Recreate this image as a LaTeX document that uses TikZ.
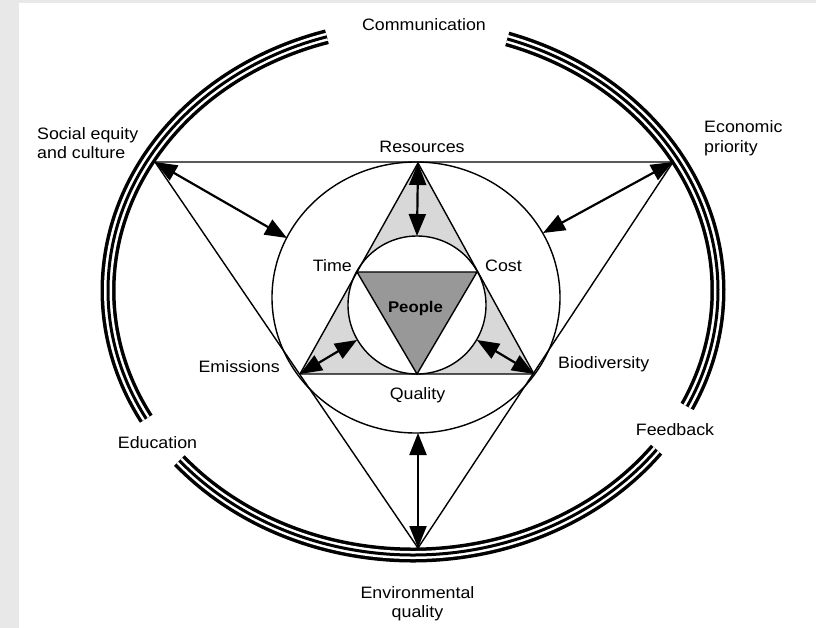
\documentclass[tikz,border=0pt]{standalone}
\usepackage{fontspec}
\setmainfont{Liberation Sans}[FakeStretch=1.08]
\usetikzlibrary{arrows.meta}

\definecolor{scanedge}{RGB}{232,232,232}
\definecolor{lightfill}{RGB}{216,216,216}
\definecolor{peoplefill}{RGB}{152,152,152}

\begin{document}
\begin{tikzpicture}[x=1pt, y=-1pt,
  headtip/.tip={Triangle[length=22pt,width=17pt]},
  lbl/.style={font=\fontsize{16.5}{19.5}\selectfont, inner sep=0pt},
  rim/.style={line width=1.4pt},
  link/.style={headtip-headtip, line width=2.2pt},
  band/.style={line width=3pt,
    preaction={draw, line width=3.5pt, double=white, double distance=8pt}}]
  \useasboundingbox (0,0) rectangle (816,628);
  \fill[white] (0,0) rectangle (816,628);
  \fill[scanedge] (0,0) rectangle (19,628);
  \fill[scanedge] (0,0) rectangle (816,3);

  % centres
  \coordinate (O) at (413,290.5);
  \coordinate (M) at (416,297.5);
  \coordinate (I) at (417,305);
  % outer triangle
  \coordinate (se) at (155,162);
  \coordinate (ep) at (673,162);
  \coordinate (eq) at (418,548);
  % inner triangle
  \coordinate (res) at (418,163);
  \coordinate (emi) at (300,374);
  \coordinate (bio) at (534,374);
  % people triangle
  \coordinate (tim) at (357,272);
  \coordinate (cst) at (477,272);
  \coordinate (qua) at (417,374);
  % arrow ends on the circles
  \coordinate (sea) at (287,238);
  \coordinate (epa) at (543,233);
  \coordinate (eqa) at (418,433);
  \coordinate (resa) at (417,236);
  \coordinate (emia) at (357,340);
  \coordinate (bioa) at (477,340);

  \fill[lightfill] (res) -- (emi) -- (bio) -- cycle;
  \fill[white] (I) circle (69pt);
  \fill[peoplefill] (tim) -- (cst) -- (qua) -- cycle;

  \draw[rim] (res) -- (emi) -- (bio) -- cycle;
  \draw[rim] (tim) -- (cst) -- (qua) -- cycle;
  \draw[rim] (I) circle (69pt);
  \draw[rim] (M) ellipse[x radius=144pt, y radius=135.5pt];
  \draw[rim] (se) -- (ep) -- (eq) -- cycle;

  \foreach \s/\e in {106.4/209, 220/323, 334/432}
    \draw[band] ([shift={(\s:305pt and 264.5pt)}]O)
      arc[start angle=\s, end angle=\e, x radius=305pt, y radius=264.5pt];

  \draw[link] (sea) -- (se);
  \draw[link] (epa) -- (ep);
  \draw[link] (eqa) -- (eq);
  \draw[link] (resa) -- (res);
  \draw[link] (emia) -- (emi);
  \draw[link] (bioa) -- (bio);

  \node[lbl, anchor=base] (comm) at (424,31) {Communication};
  \node[lbl, anchor=north west, align=left] (soc) at (37,127) {Social equity\\and culture};
  \node[lbl, anchor=north west, align=left] (eco) at (704,120.5) {Economic\\priority};
  \node[lbl, anchor=base] (resl) at (422,153) {Resources};
  \node[lbl, anchor=base east] (timl) at (352,271.5) {Time};
  \node[lbl, anchor=base west] (cstl) at (485,271.5) {Cost};
  \node[lbl, anchor=base, font=\fontsize{15.5}{18}\selectfont\bfseries] (ppl) at (415.5,312) {People};
  \node[lbl, anchor=base east] (emil) at (280,372) {Emissions};
  \node[lbl, anchor=base west] (biol) at (558,368) {Biodiversity};
  \node[lbl, anchor=base] (qual) at (417.5,399) {Quality};
  \node[lbl, anchor=base] (edu) at (157.5,448) {Education};
  \node[lbl, anchor=base] (fbk) at (675,435) {Feedback};
  \node[lbl, anchor=north, align=center] (env) at (417.5,586) {Environmental\\quality};
\end{tikzpicture}
\end{document}
